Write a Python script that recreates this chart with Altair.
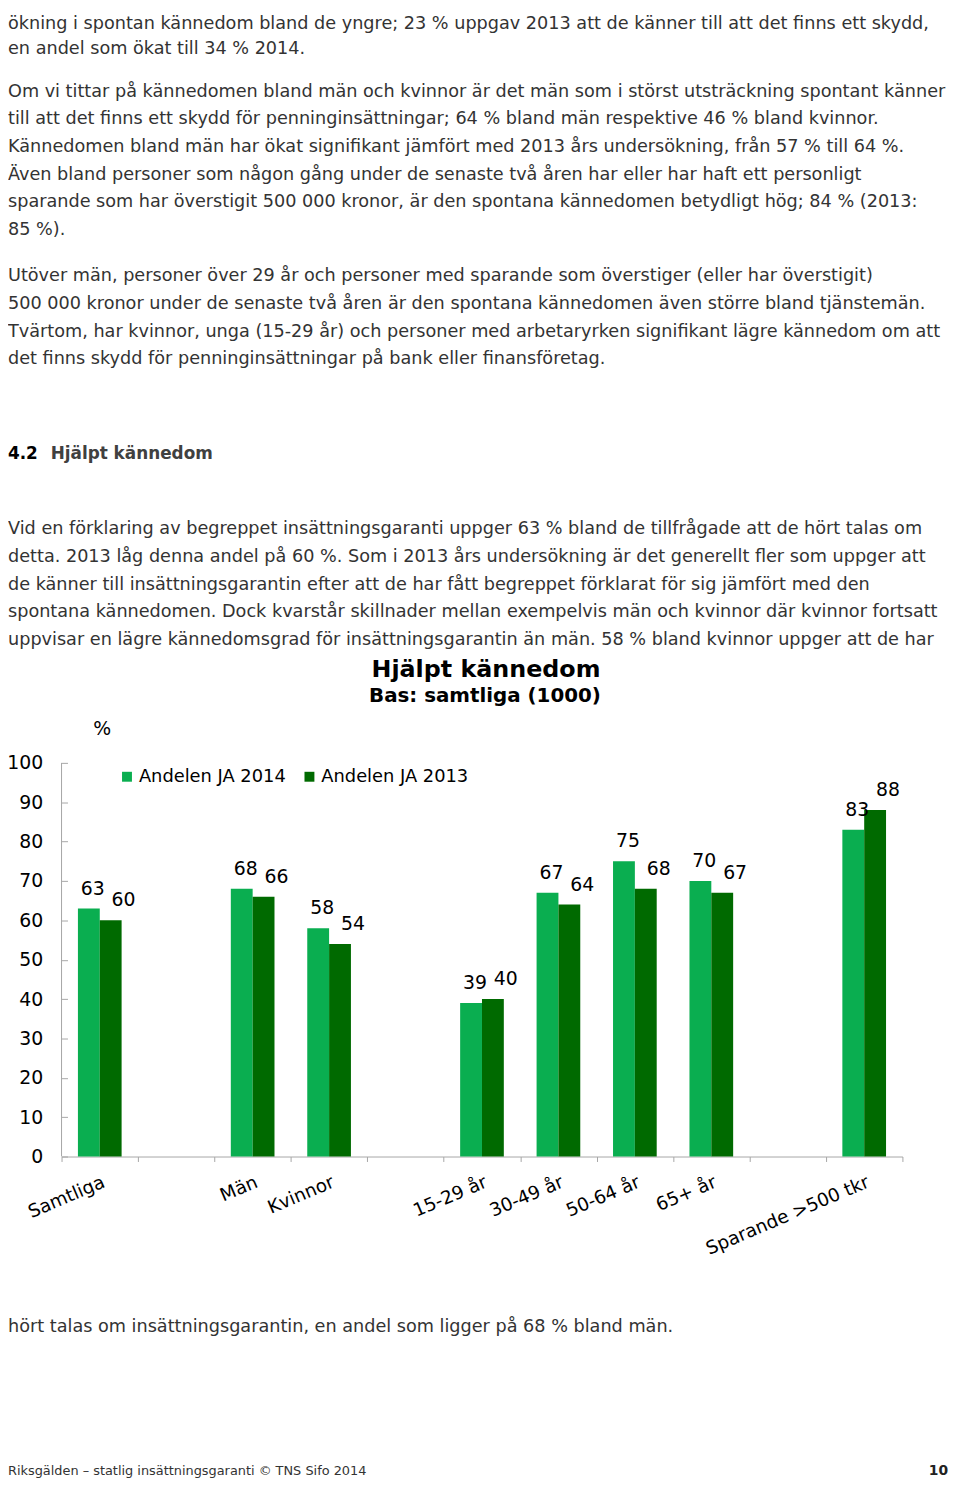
import altair as alt
import pandas as pd

# ---------------- data ----------------
categories = ["Samtliga", " ", "Män", "Kvinnor", "  ", "15-29 år", "30-49 år",
              "50-64 år", "65+ år", "   ", "Sparande >500 tkr"]
bar_categories = ["Samtliga", "Män", "Kvinnor", "15-29 år", "30-49 år",
                  "50-64 år", "65+ år", "Sparande >500 tkr"]
ja_2014 = [63, 68, 58, 39, 67, 75, 70, 83]
ja_2013 = [60, 66, 54, 40, 64, 68, 67, 88]
series = ["Andelen JA 2014", "Andelen JA 2013"]
y_ticks = [0, 10, 20, 30, 40, 50, 60, 70, 80, 90, 100]

chart_title = "Hjälpt kännedom"
chart_subtitle = "Bas: samtliga (1000)"
unit_label = "%"

para_1 = [
    "ökning i spontan kännedom bland de yngre; 23 % uppgav 2013 att de känner till att det finns ett skydd,",
    "en andel som ökat till 34 % 2014.",
]
para_2 = [
    "Om vi tittar på kännedomen bland män och kvinnor är det män som i störst utsträckning spontant känner",
    "till att det finns ett skydd för penninginsättningar; 64 % bland män respektive 46 % bland kvinnor.",
    "Kännedomen bland män har ökat signifikant jämfört med 2013 års undersökning, från 57 % till 64 %.",
    "Även bland personer som någon gång under de senaste två åren har eller har haft ett personligt",
    "sparande som har överstigit 500 000 kronor, är den spontana kännedomen betydligt hög; 84 % (2013:",
    "85 %).",
]
para_3 = [
    "Utöver män, personer över 29 år och personer med sparande som överstiger (eller har överstigit)",
    "500 000 kronor under de senaste två åren är den spontana kännedomen även större bland tjänstemän.",
    "Tvärtom, har kvinnor, unga (15-29 år) och personer med arbetaryrken signifikant lägre kännedom om att",
    "det finns skydd för penninginsättningar på bank eller finansföretag.",
]
heading_num = "4.2"
heading_text = "Hjälpt kännedom"
para_4 = [
    "Vid en förklaring av begreppet insättningsgaranti uppger 63 % bland de tillfrågade att de hört talas om",
    "detta. 2013 låg denna andel på 60 %. Som i 2013 års undersökning är det generellt fler som uppger att",
    "de känner till insättningsgarantin efter att de har fått begreppet förklarat för sig jämfört med den",
    "spontana kännedomen. Dock kvarstår skillnader mellan exempelvis män och kvinnor där kvinnor fortsatt",
    "uppvisar en lägre kännedomsgrad för insättningsgarantin än män. 58 % bland kvinnor uppger att de har",
]
para_5 = [
    "hört talas om insättningsgarantin, en andel som ligger på 68 % bland män.",
]
footer_left = "Riksgälden – statlig insättningsgaranti © TNS Sifo 2014"
footer_right = "10"

# ---------------- table ----------------
rows = []
for c, v14, v13 in zip(bar_categories, ja_2014, ja_2013):
    rows.append({"cat": c, "series": series[0], "value": v14})
    rows.append({"cat": c, "series": series[1], "value": v13})
df = pd.DataFrame(rows)

# ---------------- style / layout ----------------
FONT = "DejaVu Sans"
LIGHT = "#0AAE50"
DARK = "#006A00"
AXIS_GREY = "#A6A6A6"
BODY = "#333333"
BODY_SIZE = 17.8
LINE_H = 27.9
ORIGIN_Y = 763          # page y of plot top
PLOT_W, PLOT_H = 848, 397
TEXT_X = -54            # page left edge relative to plot origin

x_enc = alt.X(
    "cat:N",
    sort=categories,
    scale=alt.Scale(domain=categories, paddingInner=0, paddingOuter=0),
    axis=alt.Axis(
        title=None, labelAngle=337, labelAlign="right", labelBaseline="top",
        tickBand="extent", tickSize=5, tickColor=AXIS_GREY, domainColor=AXIS_GREY,
        labelFont=FONT, labelFontSize=18.5, labelColor="black", labelPadding=11,
        labelOverlap=False, labelLimit=0, grid=False,
    ),
)
xoff_enc = alt.XOffset(
    "series:N", sort=series,
    scale=alt.Scale(domain=series, paddingInner=0, paddingOuter=0.75),
)
y_enc = alt.Y(
    "value:Q",
    scale=alt.Scale(domain=[0, 100], nice=False),
    axis=alt.Axis(
        title=None, values=y_ticks, tickCount=11, domain=False, offset=-6,
        tickSize=6, tickColor=AXIS_GREY, labelFont=FONT, labelFontSize=19,
        labelColor="black", labelPadding=19, labelOverlap=False, grid=False,
    ),
)

base = alt.Chart(df)

bars = base.mark_bar().encode(
    x=x_enc,
    xOffset=xoff_enc,
    y=y_enc,
    color=alt.Color(
        "series:N", sort=series,
        scale=alt.Scale(domain=series, range=[LIGHT, DARK]),
        legend=alt.Legend(
            title=None, orient="none", legendX=57, legendY=5, direction="horizontal",
            symbolType="square", symbolSize=100, symbolStrokeWidth=0,
            labelFont=FONT, labelFontSize=18, labelColor="black",
            labelOffset=3, columnPadding=14, padding=0,
        ),
    ),
)

labels_14 = base.transform_filter(alt.datum.series == series[0]).mark_text(
    font=FONT, fontSize=19, color="black", baseline="middle", dx=4, dy=-20
).encode(x=x_enc, xOffset=xoff_enc, y=y_enc, text="value:Q")

labels_13 = base.transform_filter(alt.datum.series == series[1]).mark_text(
    font=FONT, fontSize=19, color="black", baseline="middle", dx=13, dy=-20
).encode(x=x_enc, xOffset=xoff_enc, y=y_enc, text="value:Q")

# vertical axis line (ticks of the y axis sit inside the plot)
y_domain = alt.Chart(alt.Data(values=[{}])).mark_rule(
    color=AXIS_GREY, strokeWidth=1
).encode(x=alt.value(0), y=alt.value(0), y2=alt.value(PLOT_H))


def text_line(line, x, page_y, size=BODY_SIZE, weight="normal", color=BODY,
              align="left", baseline="alphabetic"):
    return alt.Chart(alt.Data(values=[{}])).mark_text(
        text=line, x=x, y=page_y - ORIGIN_Y, font=FONT, fontSize=size,
        fontWeight=weight, color=color, align=align, baseline=baseline,
    )


def paragraph(lines, first_baseline, step=LINE_H):
    return [text_line(l, TEXT_X, first_baseline + i * step) for i, l in enumerate(lines)]


layers = [bars, labels_14, labels_13, y_domain]
layers += paragraph(para_1, 23, step=25)
layers += paragraph(para_2, 91)
layers += paragraph(para_3, 277.5)
layers += [
    text_line(heading_num, TEXT_X, 457, size=17, weight="bold", color="black"),
    text_line(heading_text, TEXT_X + 43, 457, size=17, weight="bold", color="#404040"),
]
layers += paragraph(para_4, 532.5)
layers += paragraph(para_5, 1336.5)
layers += [
    text_line(chart_title, 428, 669, size=24, weight="bold", color="black",
              align="center", baseline="middle"),
    text_line(chart_subtitle, 427, 696, size=20, weight="bold", color="black",
              align="center", baseline="middle"),
    text_line(unit_label, 41, 729, size=19, color="black", align="center",
              baseline="middle"),
    text_line(footer_left, TEXT_X, 1481, size=13),
    text_line(footer_right, 894, 1481, size=14, weight="bold", color="#222222",
              align="right"),
]

chart = alt.layer(*layers).properties(
    width=PLOT_W,
    height=PLOT_H,
    background="white",
    autosize=alt.AutoSizeParams(type="none"),
    padding={"left": 54, "top": 755, "right": 50, "bottom": 326},
).configure_view(stroke=None).configure_axisY(labelOverlap=False)

chart.save("out.html", embed_options={"renderer": "svg", "actions": False})
